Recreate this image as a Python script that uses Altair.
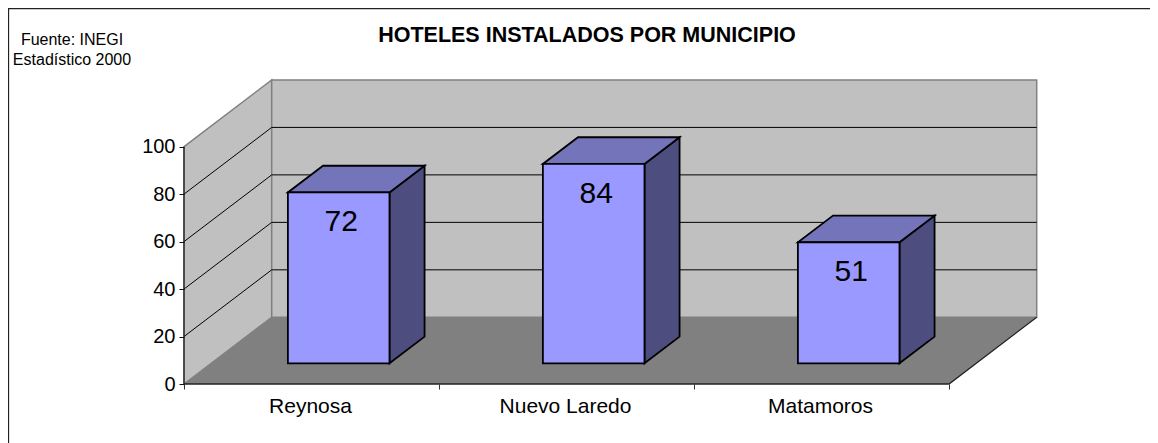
import altair as alt
import pandas as pd

categories = ["Reynosa", "Nuevo Laredo", "Matamoros"]
values = [72, 84, 51]
ticks = [0, 20, 40, 60, 80, 100]
title_text = "HOTELES INSTALADOS POR MUNICIPIO"
note_lines = ["Fuente: INEGI", "Estadístico 2000"]

W, H = 1142, 435
FONT = "Liberation Sans"
PX_X, PX_Y = 255.0, 2.3735      # pixels per category slot / per value unit
X0, Y0 = 176.0, 376.0           # where category 0 / value 0 sit in the plot
DX, DY = 87.7 / PX_X, 66.7 / PX_Y  # full depth of the box, in scale units
FRONT, BACK = 0.31, 0.71        # bar depth extent as fraction of the box
HALF = 50.8 / PX_X              # half bar width
NC = len(categories)

xs = alt.Scale(domain=[-X0 / PX_X, (W - X0) / PX_X], nice=False, zero=False)
ys = alt.Scale(domain=[(Y0 - H) / PX_Y, Y0 / PX_Y], nice=False, zero=False)

x_axis = alt.Axis(values=list(range(NC + 1)), labels=False, domain=False, grid=False,
                  orient="bottom", offset=Y0 - H, tickColor="#333333", tickSize=5,
                  tickWidth=1, zindex=1)
y_axis = alt.Axis(values=ticks, domain=False, grid=False, orient="left", offset=-X0,
                  tickColor="#111111", tickSize=5, tickWidth=1, labelFont=FONT,
                  labelFontSize=20, labelColor="black", labelPadding=4, zindex=1)


def X(f="x"):
    return alt.X(f"{f}:Q", scale=xs, axis=x_axis, title=None)


def Y(f="y"):
    return alt.Y(f"{f}:Q", scale=ys, axis=y_axis, title=None)


WALL, EDGE, FLOOR = "#C0C0C0", "#808080", "#808080"

# left wall
left_wall = alt.Chart(pd.DataFrame({
    "x": [0, DX], "y": [0, DY], "y2": [100, 100 + DY],
})).mark_area(orient="vertical", color=WALL, stroke=EDGE, strokeWidth=1.5).encode(
    x=X(), y=Y(), y2="y2:Q",
)

# back wall
back_wall = alt.Chart(pd.DataFrame({
    "x": [DX, NC + DX], "y": [DY, DY], "y2": [100 + DY, 100 + DY],
})).mark_area(orient="vertical", color=WALL, stroke=EDGE, strokeWidth=1.5).encode(
    x=X(), y=Y(), y2="y2:Q",
)

# floor
floor = alt.Chart(pd.DataFrame({
    "y": [0, DY], "x": [0, DX], "x2": [NC, NC + DX],
})).mark_area(orient="horizontal", color=FLOOR).encode(
    x=X(), x2="x2:Q", y=Y(),
)

# gridlines on both walls
grid_rows = []
for t in ticks[1:-1]:
    grid_rows += [
        {"t": t, "o": 0, "x": 0, "y": t},
        {"t": t, "o": 1, "x": DX, "y": t + DY},
        {"t": t, "o": 2, "x": NC + DX, "y": t + DY},
    ]
grid = alt.Chart(pd.DataFrame(grid_rows)).mark_line(color="black", strokeWidth=1).encode(
    x=X(), y=Y(), detail="t:N", order="o:Q",
)

# box edges: front axis, floor front and right edge
edge_rows = [
    {"e": "axis", "o": 0, "x": 0, "y": 0}, {"e": "axis", "o": 1, "x": 0, "y": 100},
    {"e": "floor", "o": 0, "x": 0, "y": 0}, {"e": "floor", "o": 1, "x": NC, "y": 0},
    {"e": "floor", "o": 2, "x": NC + DX, "y": DY},
]
edges = alt.Chart(pd.DataFrame(edge_rows)).mark_line(color="#222222", strokeWidth=1.3).encode(
    x=X(), y=Y(), detail="e:N", order="o:Q",
)

# bars
front_rows, top_rows, side_rows, label_rows = [], [], [], []
for i, (c, v) in enumerate(zip(categories, values)):
    l = i + 0.5 - HALF
    r = i + 0.5 + HALF
    yf, yb = FRONT * DY, BACK * DY
    xf, xb = FRONT * DX, BACK * DX
    front_rows.append({"c": c, "x": l + xf, "x2": r + xf, "y": yf, "y2": v + yf})
    top_rows += [
        {"c": c, "y": v + yf, "x": l + xf, "x2": r + xf},
        {"c": c, "y": v + yb, "x": l + xb, "x2": r + xb},
    ]
    side_rows += [
        {"c": c, "x": r + xf, "y": yf, "y2": v + yf},
        {"c": c, "x": r + xb, "y": yb, "y2": v + yb},
    ]
    label_rows.append({"c": c, "v": v, "x": i + 0.5 + xf, "y": v + yf})

STROKE = dict(stroke="black", strokeWidth=1.8, strokeJoin="miter")
bar_side = alt.Chart(pd.DataFrame(side_rows)).mark_area(
    orient="vertical", color="#4D4D80", **STROKE
).encode(x=X(), y=Y(), y2="y2:Q", detail="c:N")
bar_top = alt.Chart(pd.DataFrame(top_rows)).mark_area(
    orient="horizontal", color="#7474BA", **STROKE
).encode(x=X(), x2="x2:Q", y=Y(), detail="c:N")
bar_front = alt.Chart(pd.DataFrame(front_rows)).mark_rect(
    color="#9999FF", **STROKE
).encode(x=X(), x2="x2:Q", y=Y(), y2="y2:Q")

bar_labels = alt.Chart(pd.DataFrame(label_rows)).mark_text(
    font=FONT, fontSize=30, color="black", baseline="middle", dx=2.5, dy=30
).encode(x=X(), y=Y(), text="v:Q")

# category labels under the floor
cat_labels = alt.Chart(pd.DataFrame({
    "c": categories, "x": [i + 0.5 for i in range(NC)], "y": [0] * NC,
})).mark_text(font=FONT, fontSize=21, color="black", baseline="middle", dx=-1, dy=23).encode(
    x=X(), y=Y(), text="c:N",
)

# chart frame
frame_left = alt.Chart(pd.DataFrame({"a": [0]})).mark_rule(color="#222222", strokeWidth=1.3).encode(
    x=alt.value(0.5), y=alt.value(0), y2=alt.value(H),
)
frame_top = alt.Chart(pd.DataFrame({"a": [0]})).mark_rule(color="#222222", strokeWidth=1.3).encode(
    y=alt.value(0.5), x=alt.value(0), x2=alt.value(W),
)

note_1 = alt.Chart(pd.DataFrame({"t": [note_lines[0]]})).mark_text(
    font=FONT, fontSize=16, color="black", baseline="middle"
).encode(x=alt.value(64), y=alt.value(32), text="t:N")
note_2 = alt.Chart(pd.DataFrame({"t": [note_lines[1]]})).mark_text(
    font=FONT, fontSize=16, color="black", baseline="middle"
).encode(x=alt.value(64), y=alt.value(51.5), text="t:N")

chart = alt.layer(
    left_wall, back_wall, floor, grid, edges, bar_side, bar_top, bar_front,
    bar_labels, cat_labels, frame_left, frame_top, note_1, note_2,
).properties(
    width=W, height=H, padding=0, background="white",
    autosize=alt.AutoSizeParams(type="none"),
    title=alt.TitleParams(title_text, font=FONT, fontSize=21.5, fontWeight="bold", color="black",
                          anchor="middle", frame="group", dx=8, dy=39, offset=0),
).configure_view(stroke=None)

chart.save("out.html", embed_options={"renderer": "svg", "actions": False})
